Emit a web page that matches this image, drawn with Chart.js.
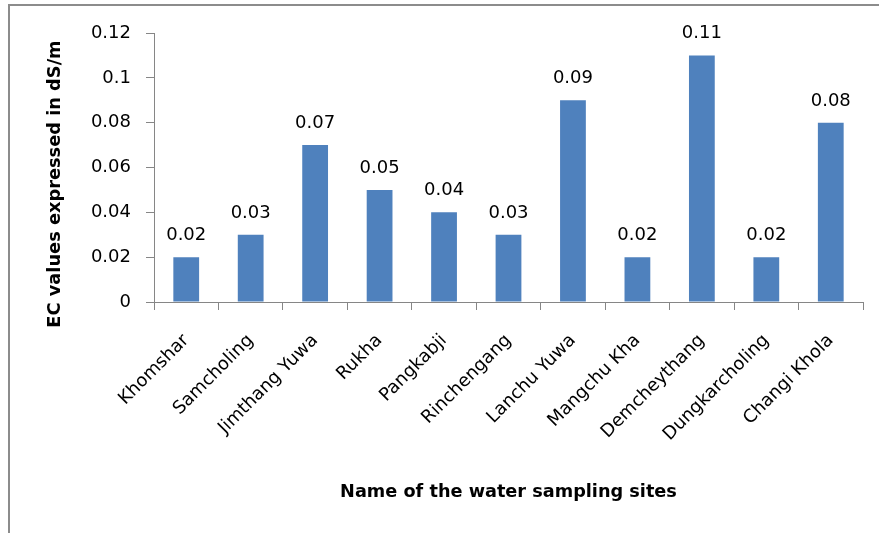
<!DOCTYPE html>
<html><head><meta charset="utf-8">
<script src="https://cdn.jsdelivr.net/npm/chart.js@4.4.1/dist/chart.umd.min.js"></script>
<style>html,body{margin:0;padding:0;background:#fff}canvas{display:block}</style>
</head><body>
<canvas id="c" width="879" height="533"></canvas>
<script>
const categories = ["Khomshar","Samcholing","Jimthang Yuwa","Rukha","Pangkabji","Rinchengang","Lanchu Yuwa","Mangchu Kha","Demcheythang","Dungkarcholing","Changi Khola"];
const ecValues = [0.02,0.03,0.07,0.05,0.04,0.03,0.09,0.02,0.11,0.02,0.08];
const yTicks = [0,0.02,0.04,0.06,0.08,0.1,0.12];
const xTitle = "Name of the water sampling sites";
const yTitle = "EC values expressed in dS/m";

const FONT = "'DejaVu Sans', sans-serif";
const AXIS_COLOR = "#868686";

const framePlugin = {
  id: 'frame',
  beforeDraw(chart) {
    const ctx = chart.ctx;
    ctx.save();
    ctx.fillStyle = '#fff';
    ctx.fillRect(0, 0, chart.width, chart.height);
    ctx.strokeStyle = '#8c8c8c';
    ctx.lineWidth = 2;
    ctx.beginPath();
    ctx.moveTo(9, chart.height);
    ctx.lineTo(9, 5);
    ctx.lineTo(chart.width, 5);
    ctx.stroke();
    ctx.restore();
  }
};

const labelPlugin = {
  id: 'valueLabels',
  afterDatasetsDraw(chart) {
    const ctx = chart.ctx;
    const meta = chart.getDatasetMeta(0);
    ctx.save();
    ctx.font = "18px " + FONT;
    ctx.fillStyle = '#000';
    ctx.textAlign = 'center';
    ctx.textBaseline = 'alphabetic';
    meta.data.forEach((bar, i) => {
      ctx.fillText(String(ecValues[i]), bar.x, bar.y - 17);
    });
    // y axis title
    ctx.font = "bold 17.8px " + FONT;
    ctx.textBaseline = 'middle';
    ctx.translate(55, 184);
    ctx.rotate(-Math.PI / 2);
    ctx.fillText(yTitle, 0, 0);
    ctx.restore();
  }
};

new Chart(document.getElementById('c'), {
  type: 'bar',
  data: {
    labels: categories,
    datasets: [{
      data: ecValues,
      backgroundColor: '#4F81BD',
      borderWidth: 0,
      barPercentage: 0.4,
      categoryPercentage: 1.0
    }]
  },
  options: {
    responsive: false,
    devicePixelRatio: 1,
    animation: false,
    layout: { padding: { top: 33, right: 16, left: 0, bottom: 0 } },
    plugins: { legend: { display: false }, tooltip: { enabled: false }, title: { display: false } },
    scales: {
      x: {
        grid: { display: true, drawOnChartArea: false, drawTicks: true, tickLength: 8, color: AXIS_COLOR, offset: true },
        border: { display: true, color: AXIS_COLOR, width: 1 },
        ticks: { color: '#000', font: { family: FONT, size: 18 }, autoSkip: false, maxRotation: 45, minRotation: 45, padding: 20 },
        title: { display: true, text: xTitle, color: '#000', font: { family: FONT, size: 17.7, weight: 'bold' }, padding: { top: 0, bottom: 30 } },
        afterFit(scale) { scale.height = 231; }
      },
      y: {
        min: 0, max: 0.12,
        grid: { display: true, drawOnChartArea: false, drawTicks: true, tickLength: 8, color: AXIS_COLOR },
        border: { display: true, color: AXIS_COLOR, width: 1 },
        ticks: { color: '#000', font: { family: FONT, size: 18 }, padding: 15, callback: v => String(v) },
        afterBuildTicks(scale) { scale.ticks = yTicks.map(v => ({ value: v })); },
        title: { display: false },
        afterFit(scale) { scale.width = 154; }
      }
    }
  },
  plugins: [framePlugin, labelPlugin]
});
</script>
</body></html>
